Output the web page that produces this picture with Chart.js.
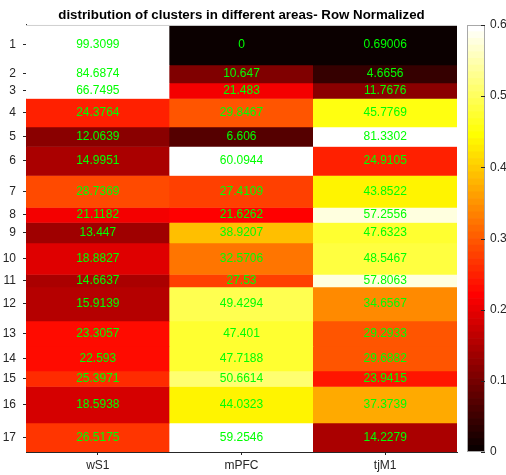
<!DOCTYPE html>
<html>
<head>
<meta charset="utf-8">
<script src="https://cdn.jsdelivr.net/npm/chart.js@4"></script>
<style>
  html, body { margin: 0; padding: 0; background: #fff; }
  #wrap { position: relative; width: 506px; height: 475px; }
  #main { position: absolute; left: 0; top: 0; width: 506px; height: 475px; }
  #cbar { position: absolute; left: 467px; top: 0; width: 39px; height: 475px; }
</style>
</head>
<body>
<div id="wrap">
  <div id="main"><canvas id="c1"></canvas></div>
  <div id="cbar"><canvas id="c2"></canvas></div>
</div>
<script>
// ---- data ----
const areas = ['wS1', 'mPFC', 'tjM1'];
const rowLabels = ['1','2','3','4','5','6','7','8','9','10','11','12','13','14','15','16','17'];
// relative row heights (non-uniform rows)
const rowSizes = [40, 18, 15.5, 28.5, 19.5, 29, 32, 15, 20.5, 31.5, 12.5, 34, 25, 25, 15.5, 36.5, 29];
const wS1  = [99.3099, 84.6874, 66.7495, 24.3764, 12.0639, 14.9951, 28.7369, 21.1182, 13.447, 18.8827, 14.6637, 15.9139, 23.3057, 22.593, 25.3971, 18.5938, 26.5175];
const mPFC = [0, 10.647, 21.483, 29.8467, 6.606, 60.0944, 27.4109, 21.6262, 38.9207, 32.5706, 27.53, 49.4294, 47.401, 47.7188, 50.6614, 44.0323, 59.2546];
const tjM1 = [0.69006, 4.6656, 11.7676, 45.7769, 81.3302, 24.9105, 43.8522, 57.2556, 47.6323, 48.5467, 57.8063, 34.6567, 29.2933, 29.6882, 23.9415, 37.3739, 14.2279];
const cTicks = [0, 0.1, 0.2, 0.3, 0.4, 0.5, 0.6];
const cMin = 0, cMax = 0.6;

// ---- hot colormap (64 levels) ----
function hot(t) {
  const m = 64, n1 = 24, n2 = 24, n3 = 16;
  let idx = Math.floor(t * m);
  idx = Math.max(0, Math.min(m - 1, idx));
  const i = idx + 1;
  const r = i <= n1 ? i / n1 : 1;
  const g = i <= n1 ? 0 : (i <= n1 + n2 ? (i - n1) / n2 : 1);
  const b = i <= n1 + n2 ? 0 : (i - n1 - n2) / n3;
  return 'rgb(' + Math.round(r * 255) + ',' + Math.round(g * 255) + ',' + Math.round(b * 255) + ')';
}
function colorFor(pct) { return hot((pct / 100 - cMin) / (cMax - cMin)); }

// row edges and centers
const edges = [0];
rowSizes.forEach(s => edges.push(edges[edges.length - 1] + s));
const total = edges[edges.length - 1];
const centers = rowSizes.map((s, i) => (edges[i] + edges[i + 1]) / 2);

const series = [wS1, mPFC, tjM1];
const datasets = rowLabels.map((lab, r) => ({
  label: lab,
  data: areas.map(() => [edges[r], edges[r + 1]]),
  values: series.map(s => s[r]),
  backgroundColor: series.map(s => colorFor(s[r])),
  borderWidth: 0,
  grouped: false,
  barPercentage: 1,
  categoryPercentage: 1
}));

const FONT = 'Liberation Sans, Arial, sans-serif';
const AX = '#262626';

const cellText = {
  id: 'cellText',
  afterDatasetsDraw(chart) {
    const ctx = chart.ctx;
    ctx.save();
    ctx.font = '12px ' + FONT;
    ctx.fillStyle = 'rgb(0,255,0)';
    ctx.textAlign = 'center';
    ctx.textBaseline = 'middle';
    chart.data.datasets.forEach((ds, di) => {
      const meta = chart.getDatasetMeta(di);
      meta.data.forEach((el, j) => {
        const y = (el.y + el.base) / 2;
        ctx.fillText(String(ds.values[j]), el.x, y);
      });
    });
    const a = chart.chartArea;
    ctx.strokeStyle = '#cfcfcf';
    ctx.lineWidth = 1;
    ctx.beginPath();
    ctx.moveTo(a.left, a.top + 0.5);
    ctx.lineTo(a.right, a.top + 0.5);
    ctx.stroke();
    ctx.restore();
  }
};

new Chart(document.getElementById('c1'), {
  type: 'bar',
  data: { labels: areas, datasets: datasets },
  options: {
    responsive: true,
    maintainAspectRatio: false,
    animation: false,
    events: [],
    layout: { padding: { left: 0, right: 49, top: 0, bottom: 0 } },
    plugins: {
      legend: { display: false },
      tooltip: { enabled: false },
      title: {
        display: true,
        fullSize: false,
        text: 'distribution of clusters in different areas- Row Normalized',
        color: '#000',
        font: { family: FONT, size: 13.3, weight: 'bold' },
        padding: { top: 7, bottom: 2 }
      }
    },
    scales: {
      x: {
        type: 'category',
        offset: true,
        grid: { display: true, offset: false, drawOnChartArea: false, drawTicks: true, tickLength: 3, color: AX },
        border: { display: true, color: AX, width: 1 },
        ticks: { color: AX, font: { family: FONT, size: 12 }, padding: 3, maxRotation: 0 },
        afterFit(s) { s.height = 23; }
      },
      y: {
        type: 'linear',
        reverse: true,
        min: 0,
        max: total,
        grid: { display: true, drawOnChartArea: false, drawTicks: true, tickLength: 3, color: AX },
        border: { display: true, color: AX, width: 1 },
        afterBuildTicks(s) { s.ticks = centers.map(v => ({ value: v })); },
        ticks: {
          autoSkip: false,
          color: AX,
          font: { family: FONT, size: 12 },
          padding: 7,
          callback: (v, i) => rowLabels[i]
        },
        afterFit(s) { s.width = 26; }
      }
    }
  },
  plugins: [cellText]
});

// ---- colorbar ----
const nSeg = 64;
const segEdges = [];
for (let k = 0; k <= nSeg; k++) segEdges.push(cMin + (cMax - cMin) * k / nSeg);
const cbDatasets = [];
for (let k = 0; k < nSeg; k++) {
  cbDatasets.push({
    data: [[segEdges[k], segEdges[k + 1]]],
    backgroundColor: hot((k + 0.5) / nSeg),
    borderWidth: 0,
    grouped: false,
    barPercentage: 1,
    categoryPercentage: 1
  });
}
const cbFrame = {
  id: 'cbFrame',
  afterDatasetsDraw(chart) {
    const ctx = chart.ctx, a = chart.chartArea, sc = chart.scales.y;
    ctx.save();
    ctx.strokeStyle = '#a8a8a8';
    ctx.lineWidth = 1;
    ctx.strokeRect(Math.round(a.left) + 0.5, Math.round(a.top) + 0.5, Math.round(a.right - a.left) - 1, Math.round(a.bottom - a.top) - 1);
    ctx.strokeStyle = AX;
    cTicks.forEach(v => {
      const y = Math.round(sc.getPixelForValue(v)) + 0.5;
      ctx.beginPath();
      ctx.moveTo(a.right - 4, y);
      ctx.lineTo(a.right, y);
      ctx.stroke();
    });
    ctx.restore();
  }
};
new Chart(document.getElementById('c2'), {
  type: 'bar',
  data: { labels: ['c'], datasets: cbDatasets },
  options: {
    responsive: true,
    maintainAspectRatio: false,
    animation: false,
    events: [],
    layout: { padding: { left: 0, right: 0, top: 25, bottom: 23 } },
    plugins: { legend: { display: false }, tooltip: { enabled: false }, title: { display: false } },
    scales: {
      x: { display: false },
      y: {
        type: 'linear',
        position: 'right',
        min: cMin,
        max: cMax,
        grid: { display: false, drawTicks: false },
        border: { display: false },
        afterBuildTicks(s) { s.ticks = cTicks.map(v => ({ value: v })); },
        ticks: {
          color: AX,
          font: { family: FONT, size: 12 },
          padding: 5,
          callback: (v) => String(+v.toFixed(1))
        },
        afterFit(s) { s.width = 21; }
      }
    }
  },
  plugins: [cbFrame]
});
</script>
</body>
</html>
